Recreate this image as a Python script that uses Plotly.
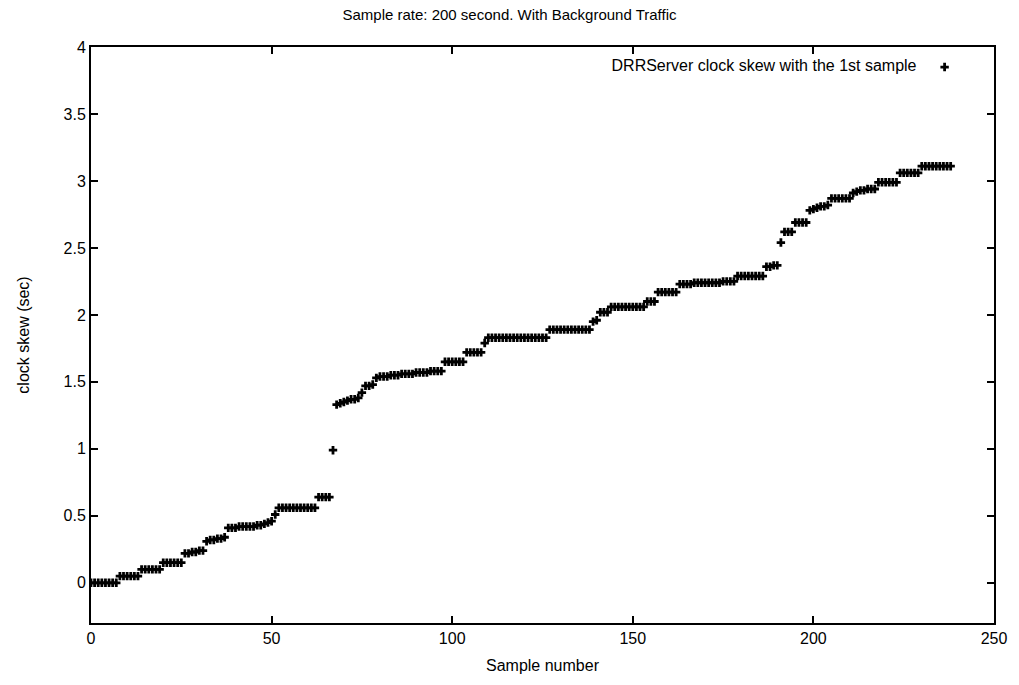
import plotly.graph_objects as go

# Clock skew (sec) for each sample
skew = [
    0.00, 0.00, 0.00, 0.00, 0.00, 0.00, 0.00, 0.00,
    0.05, 0.05, 0.05, 0.05, 0.05, 0.05,
    0.10, 0.10, 0.10, 0.10, 0.10, 0.10,
    0.15, 0.15, 0.15, 0.15, 0.15, 0.15,
    0.22, 0.22, 0.23, 0.23, 0.24, 0.24,
    0.31, 0.32, 0.32, 0.33, 0.33, 0.34,
    0.41, 0.41, 0.41, 0.42, 0.42, 0.42, 0.42, 0.42, 0.43, 0.43,
    0.44, 0.45, 0.46,
    0.51,
    0.56, 0.56, 0.56, 0.56, 0.56, 0.56, 0.56, 0.56, 0.56, 0.56, 0.56,
    0.64, 0.64, 0.64, 0.64,
    0.99,
    1.33, 1.34, 1.35, 1.36, 1.37, 1.37, 1.38,
    1.42,
    1.47, 1.47, 1.48,
    1.53, 1.54, 1.54, 1.54, 1.55, 1.55, 1.55, 1.56, 1.56, 1.56,
    1.56, 1.57, 1.57, 1.57, 1.57, 1.58, 1.58, 1.58, 1.58,
    1.65, 1.65, 1.65, 1.65, 1.65, 1.65,
    1.72, 1.72, 1.72, 1.72, 1.72,
    1.79,
    1.83, 1.83, 1.83, 1.83, 1.83, 1.83, 1.83, 1.83, 1.83, 1.83,
    1.83, 1.83, 1.83, 1.83, 1.83, 1.83, 1.83,
    1.89, 1.89, 1.89, 1.89, 1.89, 1.89, 1.89, 1.89, 1.89, 1.89, 1.89, 1.89,
    1.95, 1.96,
    2.02, 2.02, 2.02,
    2.06, 2.06, 2.06, 2.06, 2.06, 2.06, 2.06, 2.06, 2.06, 2.06,
    2.10, 2.10, 2.10,
    2.17, 2.17, 2.17, 2.17, 2.17, 2.17,
    2.23, 2.23, 2.23, 2.23, 2.24, 2.24, 2.24, 2.24,
    2.24, 2.24, 2.24, 2.24, 2.25, 2.25, 2.25, 2.25,
    2.29, 2.29, 2.29, 2.29, 2.29, 2.29, 2.29, 2.29,
    2.36, 2.36, 2.37, 2.37,
    2.54,
    2.62, 2.62, 2.62,
    2.69, 2.69, 2.69, 2.69,
    2.78, 2.79, 2.80, 2.81, 2.81, 2.82,
    2.87, 2.87, 2.87, 2.87, 2.87, 2.87,
    2.91, 2.92, 2.93, 2.93, 2.94, 2.94, 2.94,
    2.99, 2.99, 2.99, 2.99, 2.99, 2.99,
    3.06, 3.06, 3.06, 3.06, 3.06, 3.06,
    3.11, 3.11, 3.11, 3.11, 3.11, 3.11, 3.11, 3.11, 3.11,
]
samples = list(range(len(skew)))

x_ticks = [0, 50, 100, 150, 200, 250]
y_ticks = [0, 0.5, 1, 1.5, 2, 2.5, 3, 3.5, 4]

title_text = "Sample rate: 200 second. With Background Traffic"
series_name = "DRRServer clock skew with the 1st sample"
x_title = "Sample number"
y_title = "clock skew (sec)"

FONT = "Liberation Sans, Arial, Helvetica, sans-serif"

fig = go.Figure()
fig.add_trace(go.Scatter(
    x=samples, y=skew, mode="markers", name="",
    marker=dict(symbol="cross", size=7, color="black", line=dict(width=0)),
))

axis_common = dict(
    showline=True, linecolor="black", linewidth=2, mirror="ticks",
    ticks="inside", ticklen=7, tickwidth=1.5, tickcolor="black",
    showgrid=False, zeroline=False,
    tickfont=dict(family=FONT, size=16, color="black"),
)

fig.update_layout(
    width=1019, height=685,
    margin=dict(l=91, r=23, t=47, b=62),
    paper_bgcolor="white", plot_bgcolor="white",
    font=dict(family=FONT, color="black"),
    title=dict(text=title_text, x=0.5, xanchor="center", y=0.978, yanchor="middle",
               font=dict(family=FONT, size=15, color="black")),
    xaxis=dict(range=[0, 250], tickvals=x_ticks,
               title=dict(text=x_title, font=dict(family=FONT, size=16), standoff=14),
               **axis_common),
    yaxis=dict(range=[-0.3, 4], tickvals=y_ticks,
               title=dict(text=y_title, font=dict(family=FONT, size=16), standoff=30),
               **axis_common),
    showlegend=True,
    legend=dict(
        x=0.974, xanchor="right", y=0.965, yanchor="middle",
        bgcolor="rgba(0,0,0,0)", borderwidth=0,
        title=dict(text=series_name, side="left", font=dict(family=FONT, size=16)),
        font=dict(family=FONT, size=16),
        itemwidth=30,
    ),
)

fig.write_html("out.html")
